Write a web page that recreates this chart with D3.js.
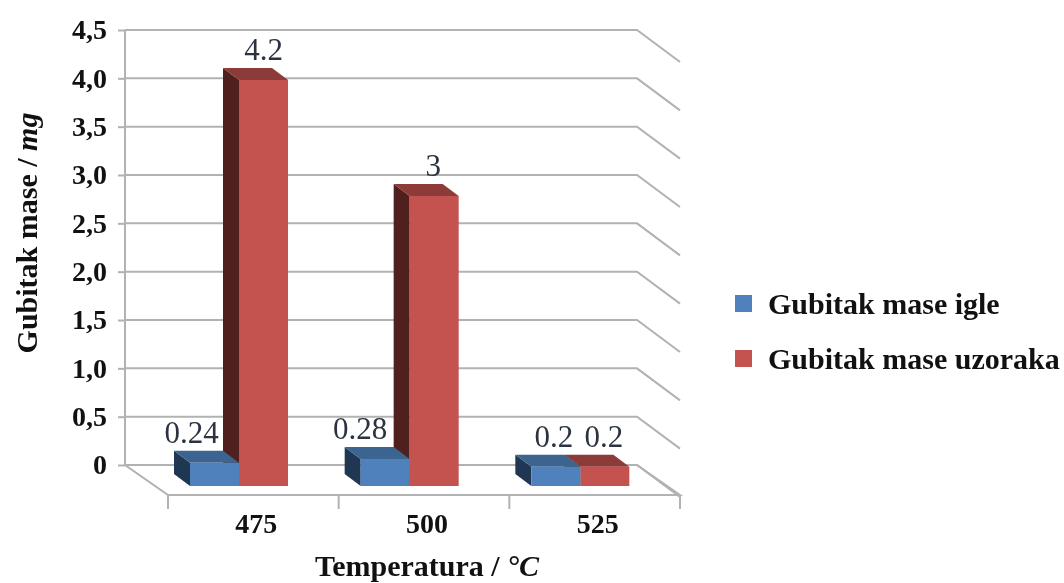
<!DOCTYPE html>
<html><head><meta charset="utf-8">
<script src="https://cdn.jsdelivr.net/npm/d3@7"></script>
<style>html,body{margin:0;background:#fff}svg{display:block;filter:blur(0.55px)}text{font-family:"Liberation Serif",serif}</style>
</head><body><svg id="c" width="1064" height="583"></svg>
<script>
const categories=["475","500","525"];
const seriesNames=["Gubitak mase igle","Gubitak mase uzoraka"];
const igle=[0.24,0.28,0.2];
const uzoraka=[4.2,3,0.2];
const labelsIgle=["0.24","0.28","0.2"];
const labelsUzoraka=["4.2","3","0.2"];
const yTicks=[0,0.5,1,1.5,2,2.5,3,3.5,4,4.5];
const yLabels=["0","0,5","1,0","1,5","2,0","2,5","3,0","3,5","4,0","4,5"];

const colors=[{front:"#4f81bd",top:"#3c6490",side:"#1f3753"},{front:"#c4524f",top:"#8c3b39",side:"#50201e"}];
const grid="#b2b2b2";
const svg=d3.select("#c");
const wall={l:125,r:637,b:465,t:30}, depth={x:43,y:30}, barDepth={x:16,y:12};
const yWall=d3.scaleLinear().domain([0,4.5]).range([wall.b,wall.t]);
const x0=d3.scaleBand().domain(categories).range([wall.l+depth.x,wall.r+depth.x]);
const x1=d3.scaleBand().domain(seriesNames).range([22,120]);
const floorY=wall.b+depth.y, barBase=486;
const h=d3.scaleLinear().domain([0,4.5]).range([0,wall.b-wall.t]);
const labelNudge={"475":[-23,0],"500":[-25,-1],"525":[-2,-1]};

// back wall grid and right side wall
const g=svg.append("g").attr("fill","none").attr("stroke",grid).attr("stroke-width",2);
yTicks.forEach(v=>{
  const y=yWall(v);
  g.append("path").attr("d",`M${wall.l},${y}H${wall.r}L${wall.r+depth.x},${y+depth.y+2}`);
});
g.append("path").attr("d",`M${wall.l},${wall.t}V${wall.b}L${wall.l+depth.x},${floorY}H${wall.r+depth.x}L${wall.r},${wall.b}`);

// y axis
const yAxis=d3.axisLeft(yWall).tickValues(yTicks).tickFormat((d,i)=>yLabels[i]).tickSize(7).tickPadding(10);
const ya=svg.append("g").attr("transform",`translate(${wall.l},0)`).call(yAxis);
ya.select(".domain").remove();
ya.selectAll("line").attr("stroke",grid).attr("stroke-width",2);
ya.selectAll("text").attr("fill","#111").attr("font-size",28).attr("font-weight","bold").attr("dx",-1).attr("dy","0.31em").style("font-family","Liberation Serif");

// x axis
const xa=svg.append("g").attr("transform",`translate(0,${floorY})`).call(d3.axisBottom(x0).tickSize(0).tickPadding(18));
xa.select(".domain").remove();
xa.selectAll("text").attr("fill","#111").attr("font-size",28).attr("font-weight","bold").style("font-family","Liberation Serif");
xa.selectAll("g.tick text").attr("x",3);
const bounds=categories.map(c=>x0(c)).concat([x0(categories[2])+x0.bandwidth()]);
xa.selectAll("line.b").data(bounds).join("line").attr("class","b").attr("x1",d=>d).attr("x2",d=>d).attr("y1",0).attr("y2",14).attr("stroke",grid).attr("stroke-width",2);

// bars: the second series sits behind the first one
const rows=[];
categories.forEach((c,i)=>{
  rows.push({c,s:1,v:uzoraka[i],l:labelsUzoraka[i]});
  rows.push({c,s:0,v:igle[i],l:labelsIgle[i]});
});
const bars=svg.append("g");
rows.forEach(d=>{
  const x=x0(d.c)+x1(seriesNames[d.s]), w=x1.bandwidth(), H=h(d.v), top=barBase-H, c=colors[d.s];
  const dx=barDepth.x, dy=barDepth.y;
  bars.append("path").attr("fill",c.side).attr("d",`M${x},${top}L${x-dx},${top-dy}V${barBase-dy}L${x},${barBase}Z`);
  bars.append("path").attr("fill",c.top).attr("d",`M${x},${top}L${x-dx},${top-dy}H${x+w-dx}L${x+w},${top}Z`);
  bars.append("rect").attr("x",x).attr("y",top).attr("width",w).attr("height",H).attr("fill",c.front);
});
rows.forEach(d=>{
  const x=x0(d.c)+x1(seriesNames[d.s]), w=x1.bandwidth(), top=barBase-h(d.v);
  svg.append("text").attr("x",x+w/2+labelNudge[d.c][d.s]).attr("y",top-20).attr("text-anchor","middle")
    .attr("font-size",31).attr("fill","#2c3340").text(d.l);
});

// legend
seriesNames.forEach((n,i)=>{
  const y=303.5+i*55;
  svg.append("rect").attr("x",735).attr("y",y-8.5).attr("width",17).attr("height",17).attr("fill",colors[i].front);
  svg.append("text").attr("x",768).attr("y",y+10).attr("font-size",30).attr("font-weight","bold").attr("fill","#111").text(n);
});

// titles
const yt=svg.append("text").attr("transform","translate(37,233) rotate(-90)").attr("text-anchor","middle")
  .attr("font-size",30).attr("font-weight","bold").attr("fill","#111");
yt.append("tspan").text("Gubitak mase / ");
yt.append("tspan").attr("font-style","italic").text("mg");
const xt=svg.append("text").attr("x",427).attr("y",576).attr("text-anchor","middle")
  .attr("font-size",30).attr("font-weight","bold").attr("fill","#111");
xt.append("tspan").text("Temperatura / ");
xt.append("tspan").attr("font-style","italic").text("°C");
</script></body></html>
